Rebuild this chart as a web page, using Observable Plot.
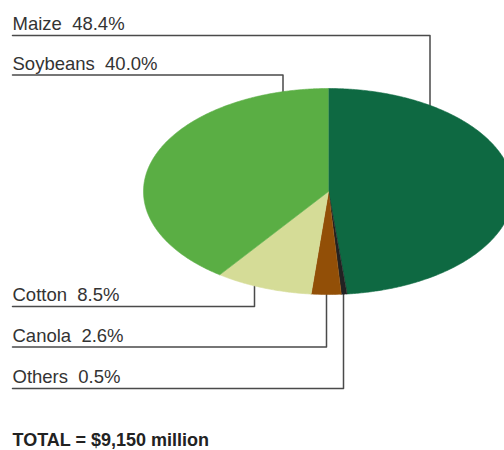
<!DOCTYPE html>
<html>
<head>
<meta charset="utf-8">
<script src="https://cdn.jsdelivr.net/npm/d3@7"></script>
<script src="https://cdn.jsdelivr.net/npm/@observablehq/plot@0.6"></script>
<style>
  html, body { margin: 0; padding: 0; background: #fff; }
  #chart svg text { white-space: pre; }
</style>
</head>
<body>
<div id="chart"></div>
<script>
// ---- data ----
const crops = ["Maize", "Others", "Canola", "Cotton", "Soybeans"];
const shares = [48.4, 0.5, 2.6, 8.5, 40.0];
const sliceColors = ["#0e6942", "#222222", "#924f07", "#d5dc97", "#5aae44"];
const labelOrder = ["Maize", "Soybeans", "Cotton", "Canola", "Others"];
const totalLabel = "TOTAL = $9,150 million";

// ---- layout ----
const W = 504, H = 450;
const CX = 328, CY = 191, RX = 185, RY = 103;
const labelX = 12;
const rowY = {Maize: 35, Soybeans: 74.5, Cotton: 306, Canola: 346.5, Others: 388};
const anchorX = {Maize: 429.5, Soybeans: 282.5, Cotton: 254, Canola: 326, Others: 343};
const anchorSide = {Maize: -1, Soybeans: -1, Cotton: 1, Canola: 1, Others: 1};

// pie geometry from the data
const arcs = d3.pie().sort(null).value(d => d.share)(crops.map((c, i) => ({crop: c, share: shares[i]})));
const slicePts = [];
for (const a of arcs) {
  const name = a.data.crop;
  slicePts.push({crop: name, x: CX, y: CY});
  const n = Math.max(2, Math.ceil((a.endAngle - a.startAngle) / (Math.PI / 360)));
  for (let k = 0; k <= n; k++) {
    const t = a.startAngle + (a.endAngle - a.startAngle) * k / n;
    slicePts.push({crop: name, x: CX + RX * Math.sin(t), y: CY - RY * Math.cos(t)});
  }
}

// leader lines
const leaderPts = [];
for (const name of labelOrder) {
  const ax = anchorX[name];
  const u = (ax - CX) / RX;
  const ey = CY + anchorSide[name] * RY * Math.sqrt(Math.max(0, 1 - u * u));
  leaderPts.push({crop: name, x: labelX, y: rowY[name]});
  leaderPts.push({crop: name, x: ax, y: rowY[name]});
  leaderPts.push({crop: name, x: ax, y: ey});
}

const labels = labelOrder.map(name => ({
  crop: name,
  text: `${name}  ${shares[crops.indexOf(name)].toFixed(1)}%`,
  x: labelX,
  y: rowY[name] - 5.5
}));

const chart = Plot.plot({
  width: W,
  height: H,
  margin: 0,
  x: {domain: [0, W], range: [0, W], axis: null},
  y: {domain: [0, H], range: [0, H], axis: null},
  color: {domain: crops, range: sliceColors},
  style: {fontFamily: "'Liberation Sans', Arial, sans-serif", background: "#fff"},
  marks: [
    Plot.line(leaderPts, {x: "x", y: "y", z: "crop", stroke: "#4a4a4a", strokeWidth: 1.5, curve: "linear"}),
    Plot.line(slicePts, {x: "x", y: "y", z: "crop", fill: "crop", stroke: "crop", strokeWidth: 0.6, curve: "linear"}),
    Plot.text(labels, {x: "x", y: "y", text: "text", textAnchor: "start", lineAnchor: "bottom", fontSize: 18.5, fill: "#333"}),
    Plot.text([totalLabel], {x: () => labelX, y: () => 445, text: d => d, textAnchor: "start", lineAnchor: "bottom", fontSize: 18, fontWeight: "bold", fill: "#222"})
  ]
});
document.getElementById("chart").appendChild(chart);
</script>
</body>
</html>
